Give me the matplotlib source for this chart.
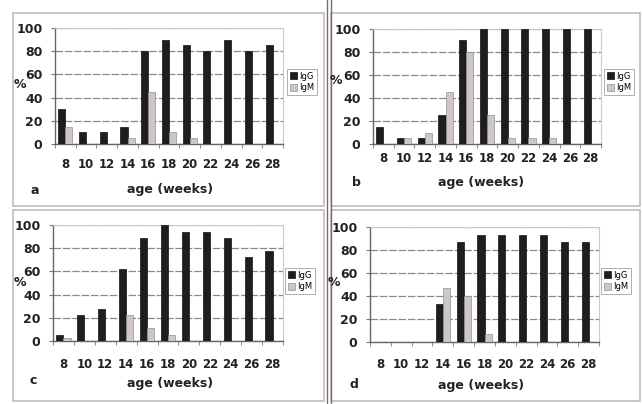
import matplotlib
matplotlib.use("Agg")
import matplotlib.pyplot as plt
from matplotlib.patches import Rectangle
import numpy as np

W, H = 642, 404
ages = [8, 10, 12, 14, 16, 18, 20, 22, 24, 26, 28]
series_names = ["IgG", "IgM"]

igg_a = [30, 10, 10, 15, 80, 90, 85, 80, 90, 80, 85]
igm_a = [15, 0, 0, 5, 45, 10, 5, 0, 0, 0, 0]
igg_b = [15, 5, 5, 25, 90, 100, 100, 100, 100, 100, 100]
igm_b = [0, 5, 10, 45, 80, 25, 5, 5, 5, 0, 0]
igg_c = [5, 22, 28, 62, 89, 100, 94, 94, 89, 72, 78]
igm_c = [3, 0, 0, 22, 11, 5, 0, 0, 0, 0, 0]
igg_d = [0, 0, 0, 33, 87, 93, 93, 93, 93, 87, 87]
igm_d = [0, 0, 0, 47, 40, 7, 0, 0, 0, 0, 0]
yticks = [0, 20, 40, 60, 80, 100]
panel_letters = ["a", "b", "c", "d"]
xlabel_text = "age (weeks)"

fig = plt.figure(figsize=(W / 100, H / 100), dpi=100)
fig.patch.set_facecolor("white")

def fx(x):
    return x / W

def fy(y):
    return 1 - y / H

border_col = "#c8b8bc"
# panel borders
for (l, t, r, b) in [(13, 13, 324, 206), (331, 13, 640, 206),
                     (13, 210, 324, 401), (331, 210, 640, 401)]:
    fig.patches.append(Rectangle((fx(l), fy(b)), fx(r - l), (b - t) / H,
                                 transform=fig.transFigure, fill=False,
                                 edgecolor=border_col, linewidth=1.2))
# double divider
for x in (327, 331):
    fig.add_artist(plt.Line2D([fx(x), fx(x)], [0, 1], transform=fig.transFigure,
                              color="#707070", linewidth=1.0))

panels = [
    dict(data=(igg_a, igm_a), ax=(55, 283, 28, 144), tick_y=164, lab_y=190, lab_x=170,
         let=(35, 190), pct=(20, 85), leg=(287, 82)),
    dict(data=(igg_b, igm_b), ax=(373, 601, 29, 144), tick_y=158, lab_y=183, lab_x=481,
         let=(356, 183), pct=(336, 80), leg=(604, 82)),
    dict(data=(igg_c, igm_c), ax=(53, 283, 225, 341), tick_y=364, lab_y=383, lab_x=170,
         let=(33, 380), pct=(20, 282), leg=(285, 281)),
    dict(data=(igg_d, igm_d), ax=(370, 599, 227, 342), tick_y=364, lab_y=385, lab_x=481,
         let=(354, 384), pct=(334, 282), leg=(601, 281)),
]

x = np.arange(len(ages))
bw = 0.34
for i, p in enumerate(panels):
    l, r, t, b = p["ax"]
    ax = fig.add_axes([fx(l), fy(b), fx(r - l), (b - t) / H])
    g, m = p["data"]
    ax.bar(x - bw / 2, g, bw, color="#1e1e1e", edgecolor="#101010", linewidth=0.5,
           label=series_names[0], zorder=3)
    ax.bar(x + bw / 2, m, bw, color="#cfc6c8", edgecolor="#909090", linewidth=0.5,
           label=series_names[1], zorder=3)
    ax.set_xlim(-0.5, len(ages) - 0.5)
    ax.set_ylim(0, 100)
    ax.set_yticks(yticks)
    ax.set_yticklabels([str(v) for v in yticks], fontsize=9, fontweight="bold",
                       color="#222222")
    ax.yaxis.grid(True, color="#8a8a8a", linewidth=0.9, linestyle=(0, (6, 1.5)))
    ax.set_axisbelow(True)
    ax.set_xticks(x)
    ax.set_xticklabels([])
    ax.tick_params(axis="x", which="major", length=0)
    ax.set_xticks(np.arange(-0.5, len(ages), 1.0), minor=True)
    ax.tick_params(axis="x", which="minor", length=3, color="#777777", direction="out")
    ax.tick_params(axis="y", length=3, color="#777777", pad=6)
    for s in ["top", "right"]:
        ax.spines[s].set_color("#d0c8ca")
    for s in ["left", "bottom"]:
        ax.spines[s].set_color("#666666")
        ax.spines[s].set_linewidth(1.0)
    # x tick labels
    for k, a in enumerate(ages):
        xp = l + (k + 0.5) * (r - l) / len(ages)
        fig.text(fx(xp), fy(p["tick_y"]), str(a), ha="center", va="center",
                 fontsize=8.5, fontweight="bold", color="#222222")
    fig.text(fx(p["lab_x"]), fy(p["lab_y"]), xlabel_text, ha="center", va="center",
             fontsize=9, fontweight="bold", color="#222222")
    fig.text(fx(p["let"][0]), fy(p["let"][1]), panel_letters[i], ha="center",
             va="center", fontsize=9, fontweight="bold", color="#222222")
    fig.text(fx(p["pct"][0]), fy(p["pct"][1]), "%", ha="center", va="center",
             fontsize=9, fontweight="bold", color="#222222")
    leg = ax.legend(loc="center left", bbox_to_anchor=(fx(p["leg"][0]), fy(p["leg"][1])),
                    bbox_transform=fig.transFigure, fontsize=6, frameon=True,
                    handlelength=0.9, handleheight=0.9, handletextpad=0.3,
                    borderpad=0.3, labelspacing=0.3, borderaxespad=0, fancybox=False)
    leg.get_frame().set_edgecolor("#999999")
    leg.get_frame().set_linewidth(0.7)

fig.savefig("out.png", dpi=100, facecolor="white")
